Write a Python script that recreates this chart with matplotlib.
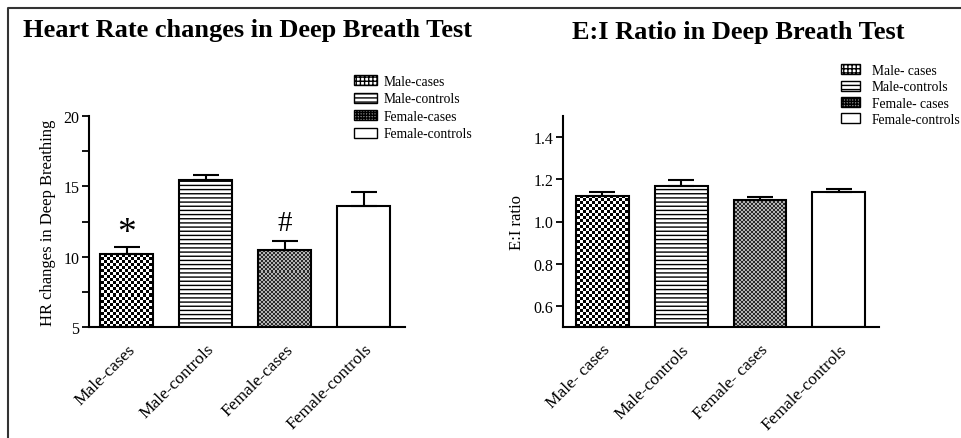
import numpy as np
import matplotlib
matplotlib.use("Agg")
import matplotlib.pyplot as plt
from matplotlib.colors import ListedColormap
from matplotlib.patches import Patch
from matplotlib.lines import Line2D

plt.rcParams['font.family'] = ['Liberation Serif', 'DejaVu Serif']
plt.rcParams['hatch.linewidth'] = 1.0

# data
hr_groups = ["Male-cases", "Male-controls", "Female-cases", "Female-controls"]
hr_mean = [10.2, 15.45, 10.45, 13.6]
hr_sem = [0.5, 0.35, 0.65, 1.0]
hr_marks = ["*", "", "#", ""]

ei_groups = ["Male- cases", "Male-controls", "Female- cases", "Female-controls"]
ei_mean = [1.122, 1.170, 1.100, 1.138]
ei_sem = [0.016, 0.027, 0.014, 0.017]

W, H = 962, 439
fig = plt.figure(figsize=(W / 100, H / 100), dpi=100)


def fill_checker(ax, bar, cell, c1, c2):
    # checkerboard texture clipped to the bar
    bb = ax.get_window_extent()
    nx = int(round(bb.width / cell))
    ny = int(round(bb.height / cell))
    arr = (np.add.outer(np.arange(ny), np.arange(nx)) % 2)
    xl, yl = ax.get_xlim(), ax.get_ylim()
    im = ax.imshow(arr, cmap=ListedColormap([c1, c2]), extent=(xl[0], xl[1], yl[0], yl[1]),
                   aspect='auto', interpolation='nearest', zorder=0.5, origin='lower')
    im.set_clip_path(bar)
    ax.set_xlim(xl)
    ax.set_ylim(yl)


def draw_panel(ax, groups, means, sems, ylim, yticks, minor=None):
    x = np.arange(len(groups))
    ax.set_xlim(-0.48, 3.52)
    ax.set_ylim(*ylim)
    bars = ax.bar(x, [m - ylim[0] for m in means], bottom=ylim[0], width=0.67,
                  facecolor='none', edgecolor='black', linewidth=1.5, zorder=1)
    bars[1].set_hatch('----')
    bars[3].set_facecolor('white')
    ax.errorbar(x, means, yerr=[np.zeros(len(sems)), sems], fmt='none', ecolor='black',
                elinewidth=1.5, capsize=9.5, capthick=1.5, zorder=2)
    fill_checker(ax, bars[0], 3, 'black', 'white')
    fill_checker(ax, bars[2], 2, '#2a2a2a', '#b4b4b4')
    for s in ['top', 'right']:
        ax.spines[s].set_visible(False)
    for s in ['left', 'bottom']:
        ax.spines[s].set_linewidth(1.5)
    ax.set_yticks(yticks)
    if minor is not None:
        ax.set_yticks(minor, minor=True)
    ax.tick_params(axis='y', which='major', length=5, width=1.3, labelsize=11.5, pad=2)
    ax.tick_params(axis='y', which='minor', length=5, width=1.3)
    ax.tick_params(axis='x', length=0, pad=10)
    ax.set_xticks(x)
    ax.set_xticklabels(groups, rotation=45, ha='right', va='top', rotation_mode='anchor',
                       fontsize=12.5)
    return bars


ax1 = fig.add_axes([89 / W, 1 - 328 / H, 316 / W, 211 / H])
draw_panel(ax1, hr_groups, hr_mean, hr_sem, (5, 20), [5, 10, 15, 20], [7.5, 12.5, 17.5])
ax1.set_ylabel("HR changes in Deep Breathing", fontsize=12, labelpad=5)
for i, m in enumerate(hr_marks):
    if m:
        ax1.annotate(m, xy=(i, hr_mean[i] + hr_sem[i]), xytext=(0, 4 if m == '#' else -2),
                     textcoords='offset points', ha='center', va='bottom',
                     fontsize=27 if m == '*' else 21)

ax2 = fig.add_axes([563 / W, 1 - 328.3 / H, 316 / W, 211.6 / H])
draw_panel(ax2, ei_groups, ei_mean, ei_sem, (0.5, 1.5), [0.6, 0.8, 1.0, 1.2, 1.4])
ax2.set_yticklabels(["0.6", "0.8", "1.0", "1.2", "1.4"])
ax2.set_ylabel("E:I ratio", fontsize=12, labelpad=6)
ax2.set_xlim(-0.5, 3.51)

fig.text(248 / W, 1 - 31 / H, "Heart Rate changes in Deep Breath Test", ha='center', va='center',
         fontsize=19, fontweight='bold')
fig.text(738 / W, 1 - 33 / H, "E:I Ratio in Deep Breath Test", ha='center', va='center',
         fontsize=19, fontweight='bold')


def legend_handles(labels):
    return [
        Patch(facecolor='white', edgecolor='black', hatch='++++', label=labels[0]),
        Patch(facecolor='white', edgecolor='black', hatch='----', label=labels[1]),
        Patch(facecolor='#888888', edgecolor='black', hatch='++++++', label=labels[2]),
        Patch(facecolor='white', edgecolor='black', label=labels[3]),
    ]


fig.legend(handles=legend_handles(hr_groups), loc='upper left', bbox_to_anchor=(354 / W, 1 - 76 / H),
           frameon=False, fontsize=9.8, borderpad=0, borderaxespad=0, handlelength=1.7,
           handleheight=0.75, handletextpad=0.45, labelspacing=0.33)
fig.legend(handles=legend_handles(ei_groups), loc='upper left', bbox_to_anchor=(841 / W, 1 - 65 / H),
           frameon=False, fontsize=9.8, borderpad=0, borderaxespad=0, handlelength=1.4,
           handleheight=0.75, handletextpad=0.85, labelspacing=0.25)

# outer frame (left and top edges only)
fig.add_artist(Line2D([8 / W, 8 / W, 1], [0, 1 - 9 / H, 1 - 9 / H], transform=fig.transFigure,
                      color='#333333', linewidth=1.5))

fig.savefig("out.png", dpi=100)
